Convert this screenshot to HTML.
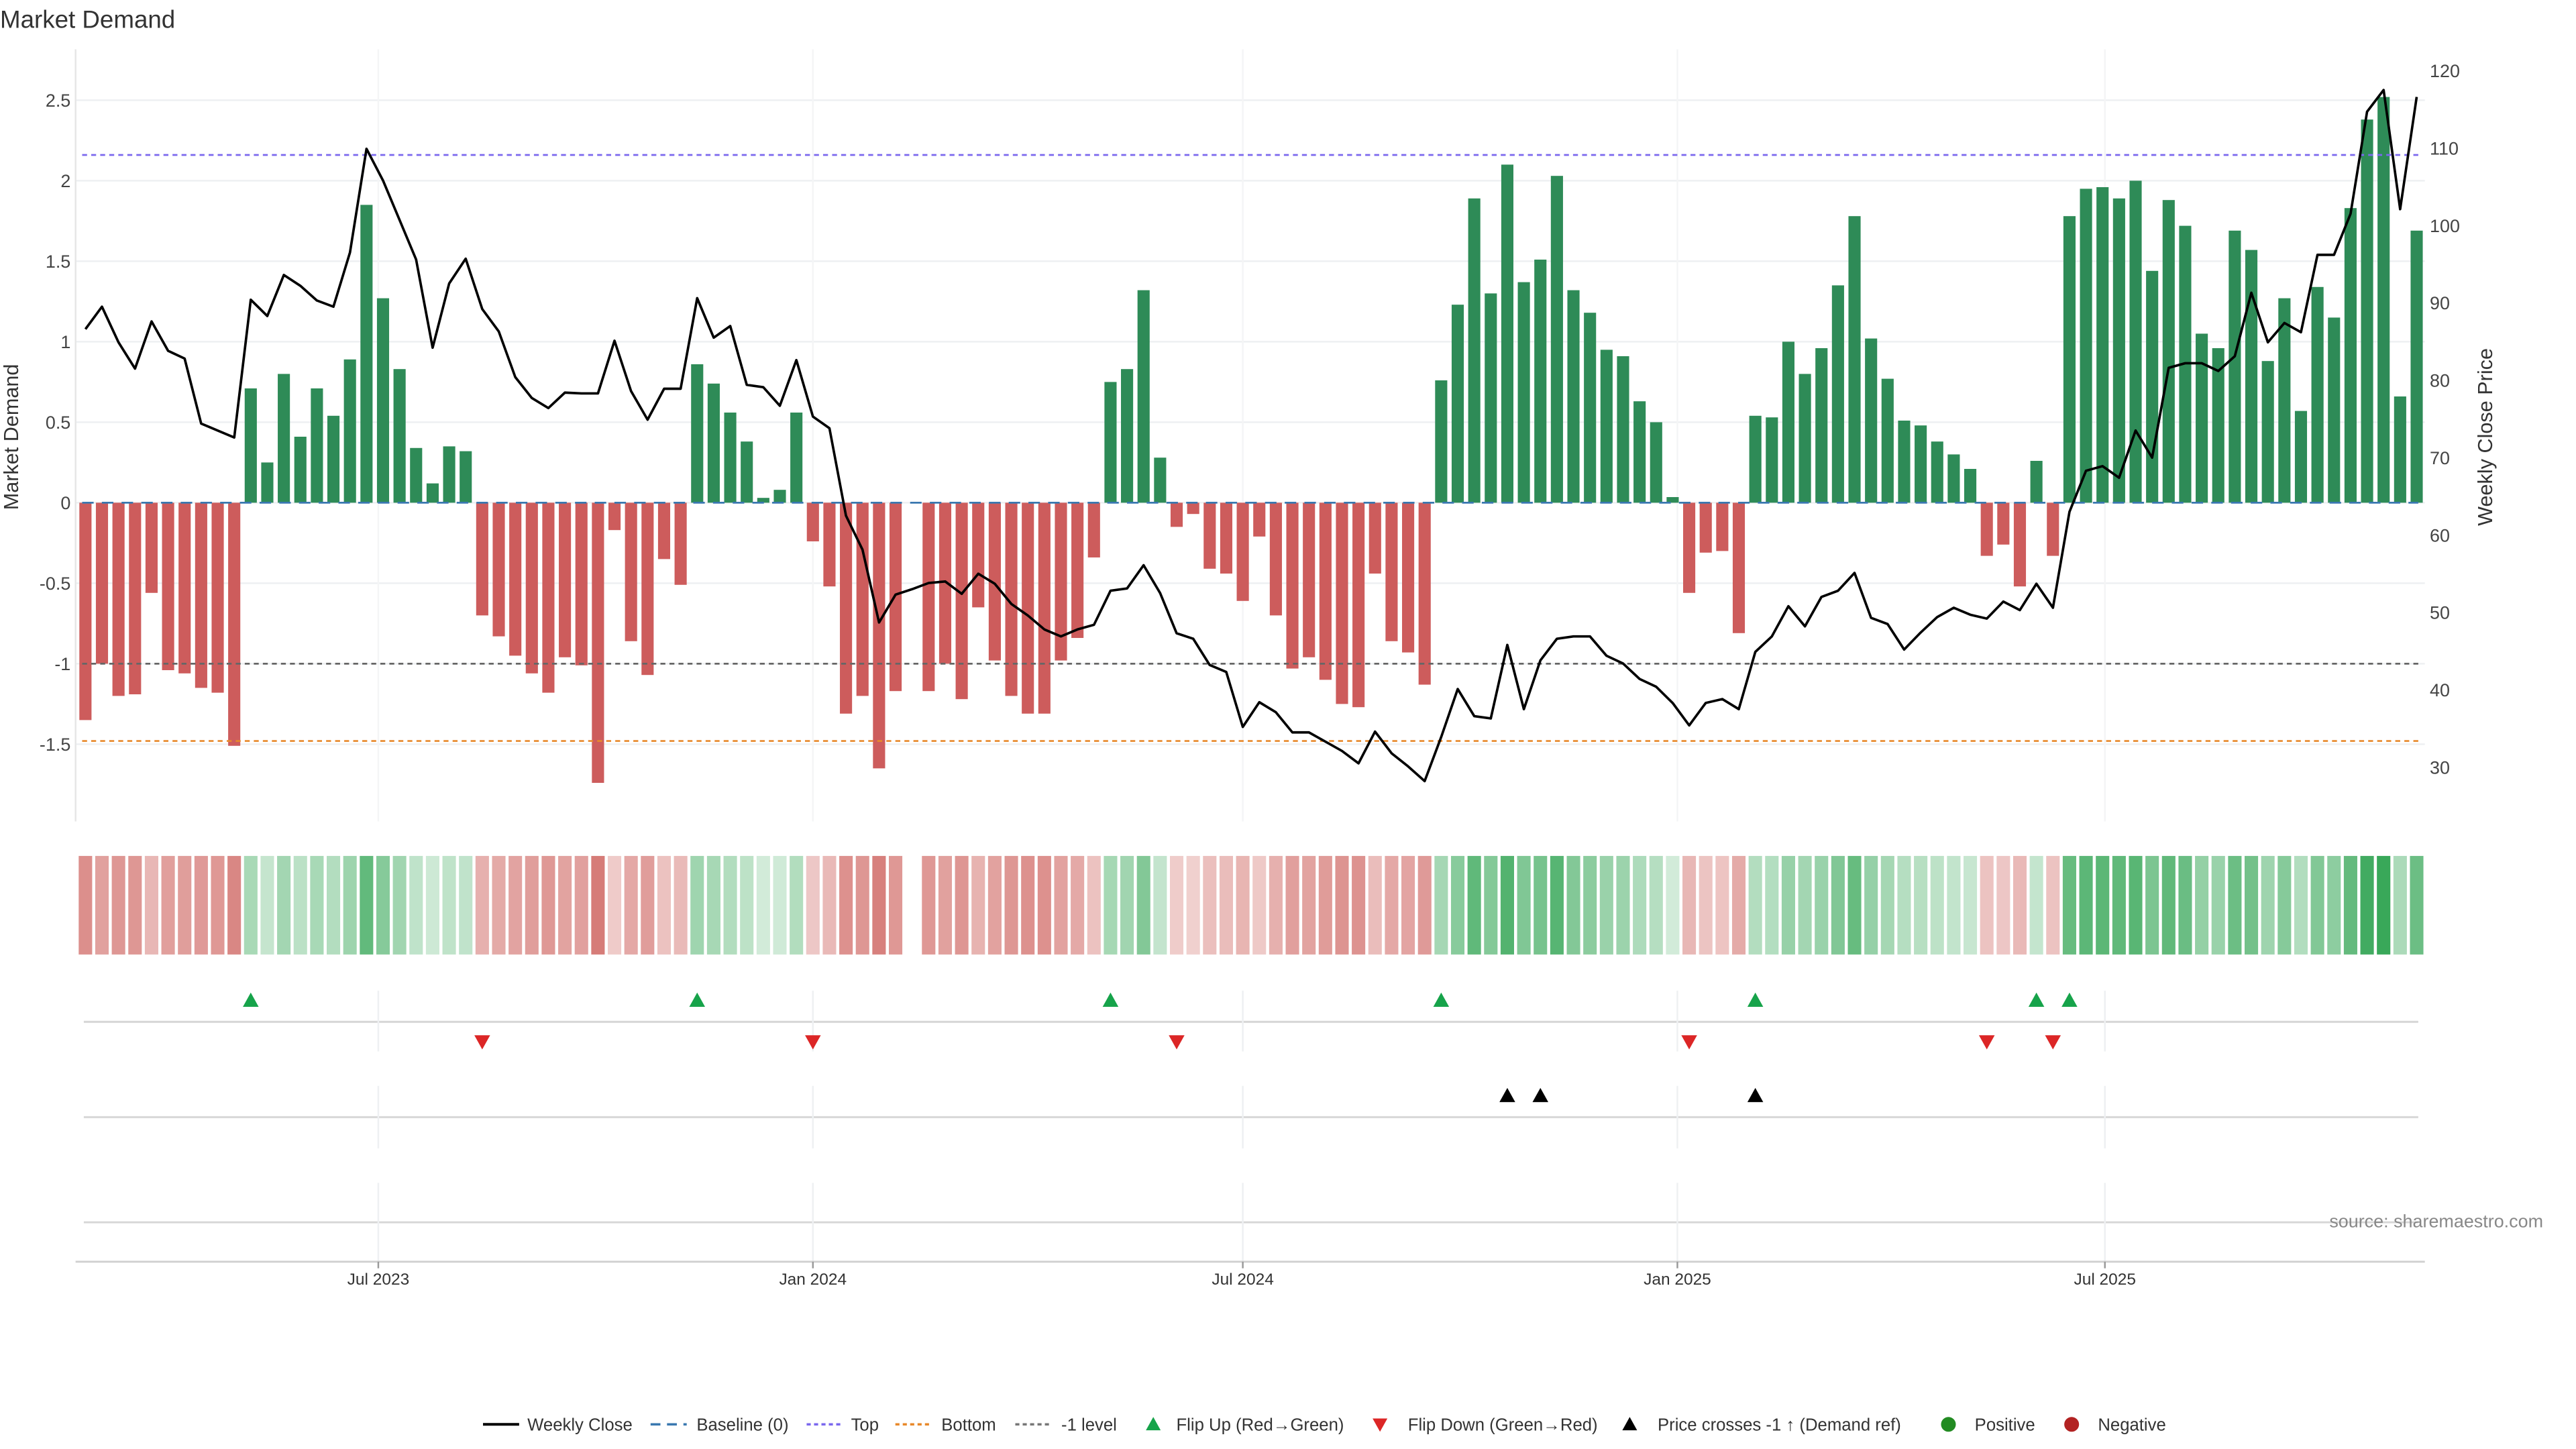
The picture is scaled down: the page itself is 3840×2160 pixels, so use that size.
<!DOCTYPE html>
<html><head><meta charset="utf-8"><title>Market Demand</title>
<style>
html,body{margin:0;padding:0;background:#fff;}
svg{display:block;font-family:"Liberation Sans","DejaVu Sans",sans-serif;}
</style></head>
<body>
<svg id="chart" xmlns="http://www.w3.org/2000/svg" width="3840" height="2160" viewBox="0 0 1568 882">
<rect x="0" y="0" width="1568" height="882" fill="#fff"/>
<text x="0" y="17" font-size="15" fill="#333">Market Demand</text>
<g id="grid"></g><g id="bars"></g><g id="refs"></g><g id="price"></g><g id="axes"></g>
<g id="heat"></g><g id="markers"></g><g id="legend"></g>
<text transform="translate(11,266) rotate(-90)" text-anchor="middle" font-size="12.5" fill="#333">Market Demand</text>
<text transform="translate(1517,266) rotate(-90)" text-anchor="middle" font-size="12.5" fill="#333">Weekly Close Price</text>
<text x="1548" y="747" text-anchor="end" font-size="11" fill="#888">source: sharemaestro.com</text>
</svg>
<script>
const startDate = "2023-02-27";
const demandValues = [-1.35,-1.0,-1.2,-1.19,-0.56,-1.04,-1.06,-1.15,-1.18,-1.51,
0.71,0.25,0.80,0.41,0.71,0.54,0.89,1.85,1.27,0.83,0.34,0.12,0.35,0.32,
-0.70,-0.83,-0.95,-1.06,-1.18,-0.96,-1.01,-1.74,-0.17,-0.86,-1.07,-0.35,-0.51,
0.86,0.74,0.56,0.38,0.03,0.08,0.56,
-0.24,-0.52,-1.31,-1.2,-1.65,-1.17,null,-1.17,-1.0,-1.22,-0.65,-0.98,-1.2,-1.31,-1.31,-0.98,-0.84,-0.34,
0.75,0.83,1.32,0.28,
-0.15,-0.07,-0.41,-0.44,-0.61,-0.21,-0.70,-1.03,-0.96,-1.1,-1.25,-1.27,-0.44,-0.86,-0.93,-1.13,
0.76,1.23,1.89,1.30,2.10,1.37,1.51,2.03,1.32,1.18,0.95,0.91,0.63,0.50,0.035,
-0.56,-0.31,-0.30,-0.81,
0.54,0.53,1.0,0.80,0.96,1.35,1.78,1.02,0.77,0.51,0.48,0.38,0.30,0.21,
-0.33,-0.26,-0.52,0.26,-0.33,
1.78,1.95,1.96,1.89,2.0,1.44,1.88,1.72,1.05,0.96,1.69,1.57,0.88,1.27,0.57,1.34,1.15,1.83,2.38,2.52,0.66,1.69];
const closePrices = [86.6,89.5,84.9,81.5,87.6,83.8,82.8,74.4,73.5,72.6,90.4,88.3,93.6,92.2,90.3,89.5,96.5,109.9,105.8,100.7,
95.6,84.2,92.5,95.7,89.2,86.3,80.4,77.7,76.4,78.4,78.3,78.3,85.1,78.6,74.9,78.9,78.9,90.6,
85.5,87.0,79.4,79.1,76.7,82.6,75.3,73.8,62.5,58.1,48.7,52.3,53.0,53.8,54.0,52.4,55.0,53.7,51.1,49.6,47.8,46.9,47.8,48.4,52.8,53.1,56.1,52.5,47.3,46.6,43.2,42.3,35.2,38.4,37.1,34.5,
34.5,33.3,32.1,30.5,34.6,31.8,30.1,28.2,33.9,40.1,36.6,36.3,45.8,37.5,43.8,46.6,46.9,46.9,44.4,43.4,41.4,40.4,38.3,35.4,38.3,38.8,37.5,44.9,46.9,50.8,48.2,52.0,52.8,55.1,49.3,48.5,45.2,
47.4,49.4,50.6,49.7,49.2,51.4,50.3,53.7,50.6,63.0,68.3,68.9,67.4,73.5,70.0,81.6,82.2,82.2,81.2,83.1,91.3,84.9,87.4,86.2,96.2,96.2,101.5,114.7,117.5,102.1,116.6];
const leftTicks = [-1.5,-1,-0.5,0,0.5,1,1.5,2,2.5];
const rightTicks = [30,40,50,60,70,80,90,100,110,120];
const monthTicks = ["2023-07-01","2024-01-01","2024-07-01","2025-01-01","2025-07-01"];
const monthLabels = ["Jul 2023","Jan 2024","Jul 2024","Jan 2025","Jul 2025"];
const topLevel = 2.16, bottomLevel = -1.48, minusOneLevel = -1;

const NS="http://www.w3.org/2000/svg";
const X0=52, WEEK=10.064, PL=46, PR=1476;
const t0=Date.parse(startDate);
function xIdx(i){return X0+i*WEEK;}
function xDate(s){return X0+(Date.parse(s)-t0)/(7*864e5)*WEEK;}
function yD(v){return 306-v*98;}
function yP(p){return 43+(120-p)*4.711;}
function pFromY(y){return 120-(y-43)/4.711;}
function mk(tag,attrs,parent){const e=document.createElementNS(NS,tag);for(const k in attrs)e.setAttribute(k,attrs[k]);parent.appendChild(e);return e;}
const G=id=>document.getElementById(id);

// grid
const grid=G('grid');
leftTicks.forEach(v=>{const l=mk('line',{x1:PL,x2:PR,y1:yD(v),y2:yD(v),stroke:'#eef0f2','stroke-width':1},grid);

});
monthTicks.forEach(d=>{const l=mk('line',{x1:xDate(d),x2:xDate(d),y1:30,y2:500,stroke:'#f4f5f6','stroke-width':1},grid);

});
const ax=mk('line',{x1:PL,x2:PL,y1:30,y2:500,stroke:'#e6e6e6','stroke-width':1},grid);



// bars
const bars=G('bars');
demandValues.forEach((v,i)=>{ if(v===null) return;
 const y=Math.min(yD(v),yD(0)), h=Math.abs(yD(v)-yD(0));
 const r=mk('rect',{x:xIdx(i)-3.7,y:y,width:7.4,height:Math.max(h,0.5),fill:v>=0?'#2e8b57':'#cd5c5c'},bars);
 
 });

// reference lines
const refs=G('refs');
function ref(v,color,dash,name){const l=mk('line',{x1:PL+4,x2:PR-4,y1:yD(v),y2:yD(v),stroke:color,'stroke-width':1.1,'stroke-dasharray':dash},refs);
 
 }
ref(topLevel,'#7b68ee','3,2.5','top-line');
ref(bottomLevel,'#e8892b','3,2.5','bottom-line');
ref(minusOneLevel,'#666','3,2.5','minus-one-line');
ref(0,'#3a78b0','7,5','baseline-zero');

// price line
const pr=G('price');
const pl=mk('polyline',{points:closePrices.map((p,i)=>xIdx(i).toFixed(2)+','+yP(p).toFixed(2)).join(' '),fill:'none',stroke:'#000','stroke-width':1.5,'stroke-linejoin':'round'},pr);



// axes labels
const axes=G('axes');
leftTicks.forEach(v=>{const t=mk('text',{x:43,y:yD(v)+4,'text-anchor':'end','font-size':11,fill:'#444'},axes);t.textContent=String(v);
 
 });
rightTicks.forEach(p=>{const t=mk('text',{x:1479,y:yP(p)+4,'font-size':11,fill:'#444'},axes);t.textContent=String(p);
 
 });

// heatmap strip
const heat=G('heat');
function mix(c,a){return 'rgb('+c.map(x=>Math.round(255-(255-x)*a)).join(',')+')';}
demandValues.forEach((v,i)=>{ if(v===null) return;
 const col=v>=0?mix([40,160,75],0.2+0.72*Math.min(v/2.52,1)):mix([200,80,75],0.25+0.5*Math.min(-v/1.74,1));
 const r=mk('rect',{x:xIdx(i)-4.1,y:521,width:8.2,height:60,fill:col},heat);
 
 });

// marker panels
const mkG=G('markers');
[[622,603,640],[680,661,699],[744,720,768]].forEach(r=>{
 const l=mk('line',{x1:51,x2:1472,y1:r[0],y2:r[0],stroke:'#d6d6d6','stroke-width':1.2},mkG);
 
 
 monthTicks.forEach(d=>{const v=mk('line',{x1:xDate(d),x2:xDate(d),y1:r[1],y2:r[2],stroke:'#eef0f2','stroke-width':1},mkG);
  
  });
});
function tri(x,y,up,color,name){const s=4.8;
 const pts=up?[[x,y-s],[x-s,y+s*0.8],[x+s,y+s*0.8]]:[[x,y+s],[x-s,y-s*0.8],[x+s,y-s*0.8]];
 const p=mk('polygon',{points:pts.map(q=>q.join(',')).join(' '),fill:color},mkG);
 
 }
let prev=null;
demandValues.forEach((v,i)=>{ if(v===null) return;
 if(prev!==null){ if(prev<0&&v>=0) tri(xIdx(i),609,true,'#16a34a','flip-up-marker');
  if(prev>=0&&v<0) tri(xIdx(i),634,false,'#dc2626','flip-down-marker'); }
 prev=v;});
const thr=pFromY(yD(minusOneLevel));
closePrices.forEach((p,i)=>{ if(i>0&&closePrices[i-1]<thr&&p>=thr) tri(xIdx(i),667,true,'#000','price-cross-marker');});

// x axis
const xl=mk('line',{x1:PL,x2:PR,y1:768,y2:768,stroke:'#d0d0d0','stroke-width':1.2},mkG);


monthTicks.forEach((d,k)=>{const x=xDate(d);
 const tk=mk('line',{x1:x,x2:x,y1:768,y2:772,stroke:'#999','stroke-width':1},mkG);
 
 
 const t=mk('text',{x:x,y:782,'text-anchor':'middle','font-size':10,fill:'#333'},mkG);t.textContent=monthLabels[k];
 
 });

// legend
const lg=G('legend');const LY=867;
function ltext(x,s){const t=mk('text',{x:x,y:LY+3.7,'font-size':10.5,fill:'#333'},lg);t.textContent=s;
 
 }
function lline(x,color,dash,w,name){const l=mk('line',{x1:x,x2:x+22,y1:LY,y2:LY,stroke:color,'stroke-width':w,'stroke-dasharray':dash},lg);
 
 }
lline(294,'#000','none',1.6,'legend-weekly-close');ltext(321,'Weekly Close');
lline(396,'#3a78b0','6,4',1.4,'legend-baseline');ltext(424,'Baseline (0)');
lline(491,'#7b68ee','2.5,2',1.4,'legend-top');ltext(518,'Top');
lline(545,'#e8892b','2.5,2',1.4,'legend-bottom');ltext(573,'Bottom');
lline(618,'#777','2.5,2',1.4,'legend-minus-one');ltext(646,'-1 level');
function ltri(x,up,color,name){const s=4.5;const pts=up?[[x,LY-s],[x-s,LY+s*0.8],[x+s,LY+s*0.8]]:[[x,LY+s],[x-s,LY-s*0.8],[x+s,LY-s*0.8]];
 const p=mk('polygon',{points:pts.map(q=>q.join(',')).join(' '),fill:color},lg);
 
 }
ltri(702,true,'#16a34a','legend-flip-up');ltext(716,'Flip Up (Red→Green)');
ltri(840,false,'#dc2626','legend-flip-down');ltext(857,'Flip Down (Green→Red)');
ltri(992,true,'#000','legend-price-cross');ltext(1009,'Price crosses -1 ↑ (Demand ref)');
const c1=mk('circle',{cx:1186,cy:LY,r:4.5,fill:'#228b22'},lg);


ltext(1202,'Positive');
const c2=mk('circle',{cx:1261,cy:LY,r:4.5,fill:'#b22222'},lg);


ltext(1277,'Negative');
</script>
</body></html>
